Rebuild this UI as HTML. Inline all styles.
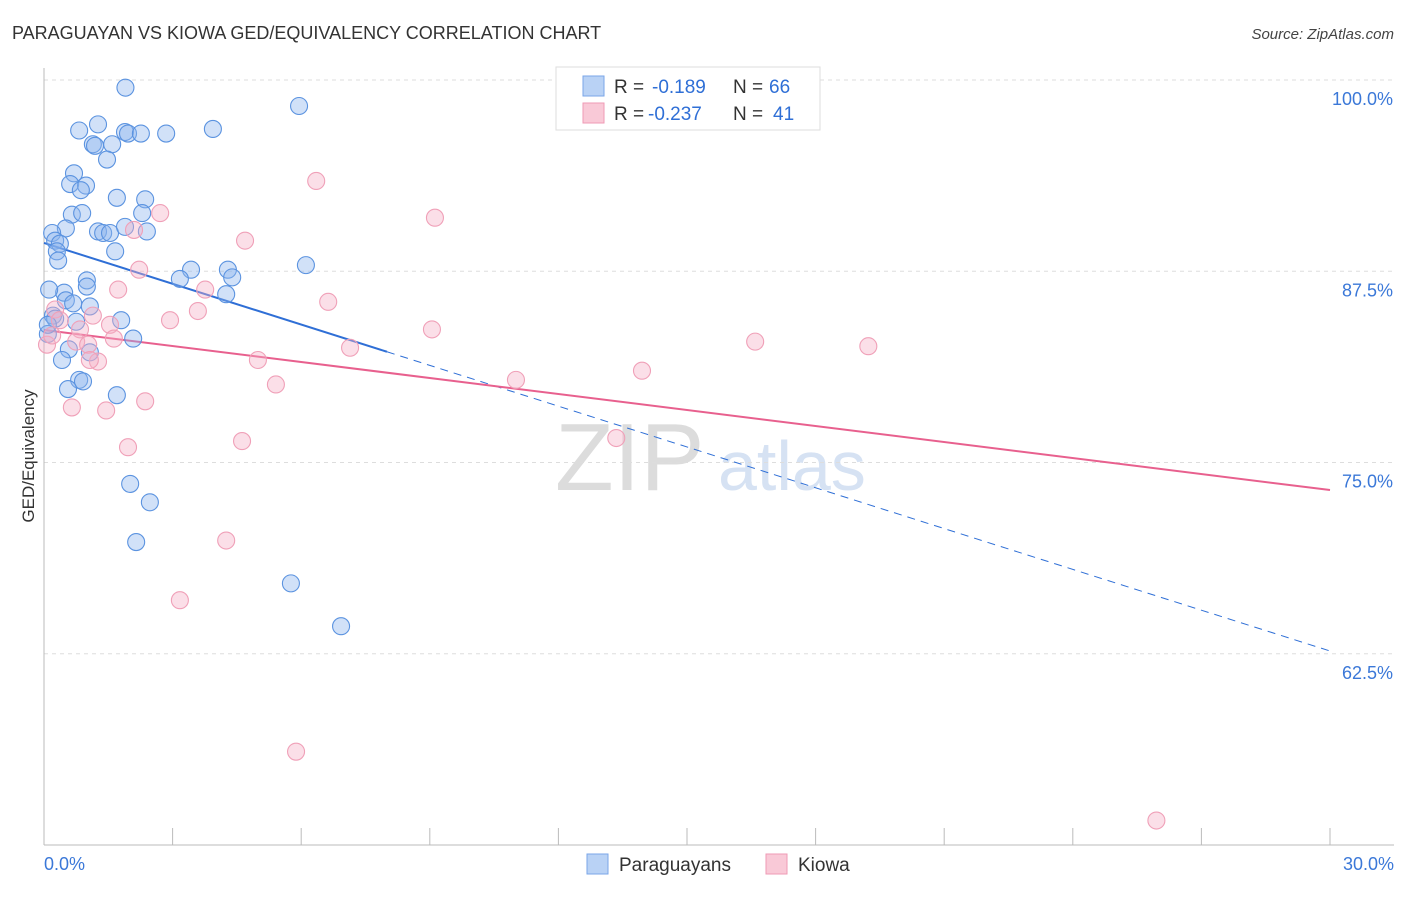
<!DOCTYPE html>
<html><head><meta charset="utf-8"><style>
body{margin:0;background:#fff;font-family:"Liberation Sans",sans-serif;}
svg text{font-family:"Liberation Sans",sans-serif;}
</style></head><body>
<svg id="chart" width="1406" height="892" xmlns="http://www.w3.org/2000/svg">
<text x="12" y="39" font-size="18" fill="#333">PARAGUAYAN VS KIOWA GED/EQUIVALENCY CORRELATION CHART</text>
<text x="1394" y="39" font-size="15" fill="#444" font-style="italic" text-anchor="end">Source: ZipAtlas.com</text>
<text transform="translate(34,456) rotate(-90)" font-size="17" fill="#333" text-anchor="middle">GED/Equivalency</text>
<text x="555" y="490" font-size="96" fill="#dcdcdc" font-family="Liberation Serif" >ZIP</text>
<text x="718" y="490" font-size="70" fill="#d6e2f3">atlas</text>
<g id="grid"></g>
<g id="axes"></g>
<g id="trend"></g>
<g id="pts"></g>
<g>
<rect x="556" y="67" width="264" height="63" fill="#fff" stroke="#ddd"/>
<rect x="583" y="76" width="21" height="20" fill="#b9d2f5" stroke="#7aa6e8"/>
<rect x="583" y="103" width="21" height="20" fill="#f9c9d7" stroke="#ef9ab4"/>
<text x="614" y="93" font-size="19" fill="#333">R = </text><text x="652" y="93" font-size="19" fill="#2f6fd6">-0.189</text>
<text x="733" y="93" font-size="19" fill="#333">N = </text><text x="769" y="93" font-size="19" fill="#2f6fd6">66</text>
<text x="614" y="120" font-size="19" fill="#333">R = </text><text x="648" y="120" font-size="19" fill="#2f6fd6">-0.237</text>
<text x="733" y="120" font-size="19" fill="#333">N = </text><text x="773" y="120" font-size="19" fill="#2f6fd6">41</text>
</g>
<g>
<rect x="587" y="854" width="21" height="20" fill="#b9d2f5" stroke="#7aa6e8"/>
<text x="619" y="871" font-size="19" fill="#333">Paraguayans</text>
<rect x="766" y="854" width="21" height="20" fill="#f9c9d7" stroke="#ef9ab4"/>
<text x="798" y="871" font-size="19" fill="#333">Kiowa</text>
</g>
</svg>
<script>
const yTicks=[100,87.5,75,62.5];
const yTickLabels=["100.0%","87.5%","75.0%","62.5%"];
const xTickLabels=["0.0%","30.0%"];
const blueX=[1.9,5.95,0.82,1.26,1.89,1.96,2.26,2.85,3.94,1.14,1.19,1.59,1.47,0.7,0.61,0.98,0.86,1.70,2.36,0.65,0.89,2.29,0.51,1.26,1.38,1.54,1.89,2.40,0.19,0.26,0.37,0.30,0.33,1.66,3.43,3.17,4.29,4.39,6.11,1.00,1.00,0.47,0.12,0.51,0.68,1.07,4.25,0.21,0.26,0.75,1.80,2.08,0.09,0.58,1.07,0.42,0.82,0.91,0.56,1.70,2.01,2.47,2.15,5.76,6.93,0.09];
const blueY=[99.5,98.3,96.7,97.1,96.6,96.5,96.5,96.5,96.8,95.8,95.7,95.8,94.8,93.9,93.2,93.1,92.8,92.3,92.2,91.2,91.3,91.3,90.3,90.1,90.0,90.0,90.4,90.1,90.0,89.5,89.3,88.8,88.2,88.8,87.6,87.0,87.6,87.1,87.9,86.9,86.5,86.1,86.3,85.6,85.4,85.2,86.0,84.6,84.4,84.2,84.3,83.1,83.4,82.4,82.2,81.7,80.4,80.3,79.8,79.4,73.6,72.4,69.8,67.1,64.3,84.0];
const pinkX=[0.07,0.19,0.26,0.37,0.84,0.75,1.03,1.14,1.54,1.63,1.26,1.07,0.65,1.45,2.36,1.96,1.73,2.22,2.10,2.71,2.94,3.59,3.76,4.69,4.99,5.41,4.62,4.25,3.17,5.88,6.35,6.63,7.14,9.12,9.05,11.01,13.95,13.35,16.59,19.23,25.95,16.22];
const pinkY=[82.7,83.3,85.0,84.3,83.7,82.9,82.7,84.6,84.0,83.1,81.6,81.7,78.6,78.4,79.0,76.0,86.3,87.6,90.2,91.3,84.3,84.9,86.3,89.5,81.7,80.1,76.4,69.9,66.0,56.1,93.4,85.5,82.5,91.0,83.7,80.4,81.0,76.6,82.9,82.6,51.6,100.1];
const blueTrend=[89.35,62.68], pinkTrend=[83.66,73.2];
const NS="http://www.w3.org/2000/svg";
const xs=v=>44+v/30*1286, ys=v=>80+(100-v)*15.3;
function mk(t,a,p){const e=document.createElementNS(NS,t);for(const k in a)e.setAttribute(k,a[k]);document.getElementById(p).appendChild(e);return e;}
yTicks.forEach((t,i)=>{
 const l=mk('line',{x1:44,x2:1394,y1:ys(t),y2:ys(t),stroke:'#ddd','stroke-dasharray':'4,4'},'grid');
 
 
 const tx=mk('text',{x:1393,y:ys(t)+25,'font-size':18,fill:'#3b78d8','text-anchor':'end'},'grid');
 tx.textContent=yTickLabels[i];
 
 
});
let ax=mk('line',{x1:44,x2:44,y1:68,y2:845,stroke:'#bbb'},'axes');


ax=mk('line',{x1:44,x2:1394,y1:845,y2:845,stroke:'#bbb'},'axes');


for(let k=0;k<=10;k++){const t=mk('line',{x1:xs(k*3),x2:xs(k*3),y1:828,y2:845,stroke:'#bbb'},'axes');
 
 }
[[0,'start',44],[30,'end',1394]].forEach((d,i)=>{const t=mk('text',{x:d[2],y:870,'font-size':18,fill:'#3b78d8','text-anchor':d[1]},'axes');t.textContent=xTickLabels[i];
 
 });
const bAt=x=>blueTrend[0]+(blueTrend[1]-blueTrend[0])*x/30;
let tl=mk('line',{x1:xs(0),y1:ys(bAt(0)),x2:xs(8),y2:ys(bAt(8)),stroke:'#2f6fd6','stroke-width':2},'trend');


tl=mk('line',{x1:xs(8),y1:ys(bAt(8)),x2:xs(30),y2:ys(bAt(30)),stroke:'#2f6fd6','stroke-width':1,'stroke-dasharray':'8,6'},'trend');


tl=mk('line',{x1:xs(0),y1:ys(pinkTrend[0]),x2:xs(30),y2:ys(pinkTrend[1]),stroke:'#e8608e','stroke-width':2},'trend');


blueX.forEach((x,i)=>{const c=mk('circle',{cx:xs(x),cy:ys(blueY[i]),r:8.5,fill:'rgba(140,180,238,0.4)',stroke:'#5b93e0','stroke-width':1.1},'pts');
 
 });
pinkX.forEach((x,i)=>{const c=mk('circle',{cx:xs(x),cy:ys(pinkY[i]),r:8.5,fill:'rgba(246,176,198,0.4)',stroke:'#f0a0b8','stroke-width':1.1},'pts');
 
 });
</script>
</body></html>
